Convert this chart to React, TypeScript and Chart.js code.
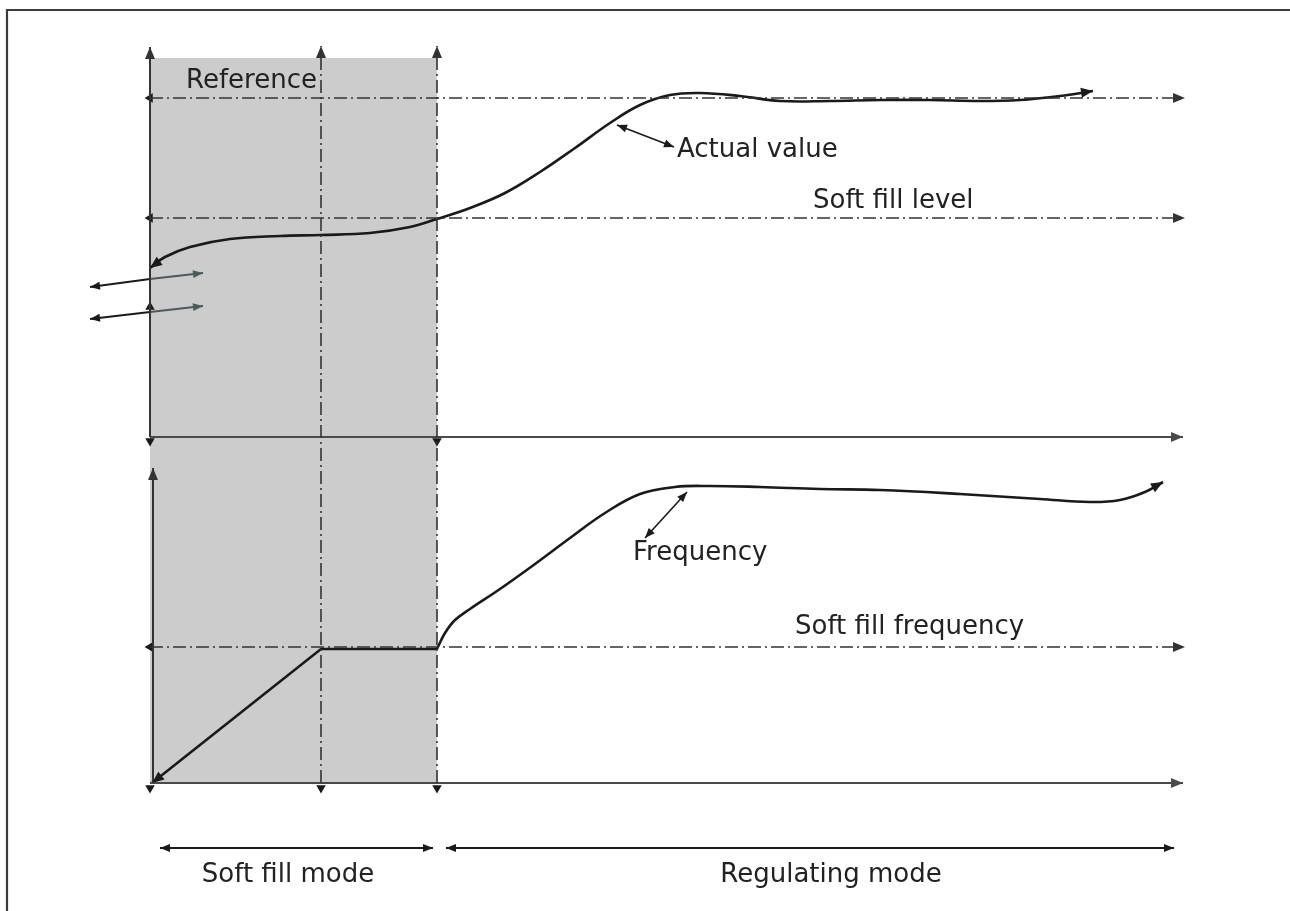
import { useEffect, useRef } from "react";
import { Chart, registerables } from "chart.js";

Chart.register(...registerables);

// Diagram extent (diagram units)
const X_MIN = 0;
const X_MAX = 1290;
const Y_MIN = 0;
const Y_MAX = 911;

// Time instants (start, soft-fill reached, regulating starts)
const timeMarks = [150, 321, 437];

// Levels
const referenceLevel = 98;
const softFillLevel = 218;
const upperAxisLevel = 437;
const softFillFreqLevel = 647;
const lowerAxisLevel = 783;
const axisEnd = 1185;

// Actual value curve
const actualX = [150, 165, 190, 230, 280, 321, 370, 410, 437, 470, 505, 540, 575, 610, 640, 670, 700, 740, 780, 830, 880, 930, 980, 1020, 1060, 1093];
const actualY = [268, 257, 247, 239, 236, 235, 233, 227, 219, 208, 193, 172, 148, 123, 105, 95, 93, 96, 101, 101, 100, 100, 101, 100, 96, 91];

// Frequency: ramp then regulated curve
const rampX = [152, 321, 437];
const rampY = [783, 649, 649];
const freqX = [437, 445, 455, 470, 500, 535, 570, 605, 640, 675, 710, 760, 820, 880, 960, 1040, 1090, 1120, 1145, 1163];
const freqY = [649, 633, 620, 609, 589, 564, 538, 513, 494, 487, 486, 487, 489, 490, 494, 499, 502, 500, 492, 482];

// Small arrowhead markers: x, y, rotation (deg)
const markerX = [150, 437, 150, 321, 437, 150, 150, 150, 150];
const markerY = [441, 441, 788, 788, 788, 98, 218, 647, 307];
const markerRot = [180, 180, 180, 180, 180, 270, 270, 270, 0];

// Labels
const labelText = ["Reference", "Actual value", "Soft fill level", "Frequency", "Soft fill frequency", "Soft fill mode", "Regulating mode"];
const labelX = [186, 677, 813, 633, 795, 288, 831];
const labelY = [88, 157, 208, 560, 634, 882, 882];
const labelAlign = ["left", "left", "left", "left", "left", "center", "center"];

const pts = (xs: number[], ys: number[]) => xs.map((x, i) => ({ x, y: ys[i] }));

const DASH = [13, 4, 2, 4];
const DARK = "#1a1a1a";
const AXIS = "#3a3a3a";

function line(data: { x: number; y: number }[], extra: any = {}) {
  return {
    data,
    showLine: true,
    pointRadius: 0,
    borderColor: AXIS,
    borderWidth: 1.8,
    tension: 0,
    fill: false,
    ...extra,
  };
}

const arrowPlugin = {
  id: "arrowheads",
  afterDatasetsDraw(chart: any) {
    const ctx = chart.ctx;
    chart.data.datasets.forEach((ds: any, i: number) => {
      if (!ds.arrowStart && !ds.arrowEnd) return;
      const meta = chart.getDatasetMeta(i);
      const els = meta.data;
      if (els.length < 2) return;
      const color = ds.arrowColor || ds.borderColor;
      const len = ds.arrowLen || 12;
      const hw = ds.arrowHalf || 5;
      const draw = (tip: any, from: any) => {
        const dx = tip.x - from.x;
        const dy = tip.y - from.y;
        const d = Math.hypot(dx, dy) || 1;
        const ux = dx / d;
        const uy = dy / d;
        const bx = tip.x - ux * len;
        const by = tip.y - uy * len;
        ctx.save();
        ctx.setLineDash([]);
        ctx.fillStyle = color;
        ctx.beginPath();
        ctx.moveTo(tip.x, tip.y);
        ctx.lineTo(bx - uy * hw, by + ux * hw);
        ctx.lineTo(bx + uy * hw, by - ux * hw);
        ctx.closePath();
        ctx.fill();
        ctx.restore();
      };
      if (ds.arrowEnd) draw(els[els.length - 1], els[els.length - 2]);
      if (ds.arrowStart) draw(els[0], els[1]);
    });
  },
};

const labelPlugin = {
  id: "labels",
  afterDraw(chart: any) {
    const ctx = chart.ctx;
    const xs = chart.scales.x;
    const ys = chart.scales.y;
    ctx.save();
    ctx.font = '26px "DejaVu Sans", Verdana, sans-serif';
    ctx.fillStyle = "#222222";
    ctx.textBaseline = "alphabetic";
    labelText.forEach((t, i) => {
      ctx.textAlign = labelAlign[i] as CanvasTextAlign;
      ctx.fillText(t, xs.getPixelForValue(labelX[i]), ys.getPixelForValue(labelY[i]));
    });
    ctx.restore();
  },
};

export default function App() {
  const ref = useRef<HTMLCanvasElement | null>(null);

  useEffect(() => {
    if (!ref.current) return;
    const [t0, t1, t2] = timeMarks;
    const curve = { tension: 0.4 };
    const datasets: any[] = [
      // Frame
      line(pts([7, 7, 1290], [911, 10, 10]), { borderColor: "#3c3c3c", borderWidth: 2.2 }),
      // Upper panel vertical axis
      line(pts([t0, t0], [upperAxisLevel, 47]), { borderColor: "#333", borderWidth: 2, arrowEnd: true }),
      // Dash-dot time lines
      line(pts([t1, t1], [lowerAxisLevel, 46]), { borderDash: DASH, borderColor: "#333", borderWidth: 1.6, arrowEnd: true }),
      line(pts([t2, t2], [lowerAxisLevel, 46]), { borderDash: DASH, borderColor: "#333", borderWidth: 1.6, arrowEnd: true }),
      // Level lines
      line(pts([t0, axisEnd], [referenceLevel, referenceLevel]), { borderDash: DASH, borderColor: "#333", borderWidth: 1.6, arrowEnd: true }),
      line(pts([t0, axisEnd], [softFillLevel, softFillLevel]), { borderDash: DASH, borderColor: "#333", borderWidth: 1.6, arrowEnd: true }),
      line(pts([t0, axisEnd], [softFillFreqLevel, softFillFreqLevel]), { borderDash: DASH, borderColor: "#333", borderWidth: 1.6, arrowEnd: true }),
      // Horizontal axes
      line(pts([t0, axisEnd - 2], [upperAxisLevel, upperAxisLevel]), { borderColor: "#4a4a4a", borderWidth: 2, arrowEnd: true }),
      line(pts([t0, axisEnd - 2], [lowerAxisLevel, lowerAxisLevel]), { borderColor: "#4a4a4a", borderWidth: 2, arrowEnd: true }),
      // Lower panel vertical axis
      line(pts([t0 + 3, t0 + 3], [lowerAxisLevel, 468]), { borderColor: "#333", borderWidth: 2, arrowEnd: true }),
      // Curves
      line(pts(actualX, actualY), { ...curve, borderColor: DARK, borderWidth: 2.6, arrowStart: true, arrowEnd: true, arrowLen: 12, arrowHalf: 5 }),
      line(pts(rampX, rampY), { borderColor: DARK, borderWidth: 2.6, arrowStart: true, arrowLen: 12, arrowHalf: 5 }),
      line(pts(freqX, freqY), { ...curve, borderColor: DARK, borderWidth: 2.6, arrowEnd: true, arrowLen: 12, arrowHalf: 5 }),
      // Left-side arrows
      line(pts([90, t0], [287, 279]), { borderColor: DARK, borderWidth: 1.8, arrowStart: true, arrowLen: 10, arrowHalf: 4 }),
      line(pts([t0, 203], [279, 273]), { borderColor: "#4b5a5a", borderWidth: 1.8, arrowEnd: true, arrowLen: 10, arrowHalf: 4 }),
      line(pts([90, t0], [319, 312]), { borderColor: DARK, borderWidth: 1.8, arrowStart: true, arrowLen: 10, arrowHalf: 4 }),
      line(pts([t0, 203], [312, 306]), { borderColor: "#4b5a5a", borderWidth: 1.8, arrowEnd: true, arrowLen: 10, arrowHalf: 4 }),
      // Label pointers
      line(pts([617, 674], [125, 147]), { borderColor: DARK, borderWidth: 1.6, arrowStart: true, arrowEnd: true, arrowLen: 10, arrowHalf: 4 }),
      line(pts([687, 645], [492, 538]), { borderColor: DARK, borderWidth: 1.6, arrowStart: true, arrowEnd: true, arrowLen: 10, arrowHalf: 4 }),
      // Mode spans
      line(pts([160, 433], [848, 848]), { borderColor: DARK, borderWidth: 1.8, arrowStart: true, arrowEnd: true, arrowLen: 10, arrowHalf: 4 }),
      line(pts([446, 1174], [848, 848]), { borderColor: DARK, borderWidth: 1.8, arrowStart: true, arrowEnd: true, arrowLen: 10, arrowHalf: 4 }),
      // Small arrowhead markers
      {
        data: pts(markerX, markerY),
        showLine: false,
        pointStyle: "triangle",
        pointRadius: 5.5,
        pointRotation: markerRot,
        pointBackgroundColor: DARK,
        pointBorderColor: DARK,
        pointBorderWidth: 0,
      },
      // Soft-fill shading (drawn underneath)
      line(pts([t0, t2], [58, 58]), {
        borderWidth: 0,
        borderColor: "rgba(0,0,0,0)",
        backgroundColor: "#cccccc",
        fill: { value: lowerAxisLevel },
        order: 100,
      }),
    ];

    const chart = new Chart(ref.current, {
      type: "scatter",
      data: { datasets },
      options: {
        animation: false,
        responsive: false,
        devicePixelRatio: 1,
        layout: { padding: 0, autoPadding: false },
        plugins: { legend: { display: false }, tooltip: { enabled: false } },
        events: [],
        clip: false,
        scales: {
          x: { type: "linear", min: X_MIN, max: X_MAX, display: false },
          y: { type: "linear", min: Y_MIN, max: Y_MAX, reverse: true, display: false },
        },
      } as any,
      plugins: [arrowPlugin, labelPlugin],
    });
    return () => chart.destroy();
  }, []);

  return (
    <div style={{ position: "absolute", left: 0, top: 0, width: 1290, height: 911, background: "#fff" }}>
      <canvas ref={ref} width={1290} height={911} style={{ display: "block", width: 1290, height: 911 }} />
    </div>
  );
}
